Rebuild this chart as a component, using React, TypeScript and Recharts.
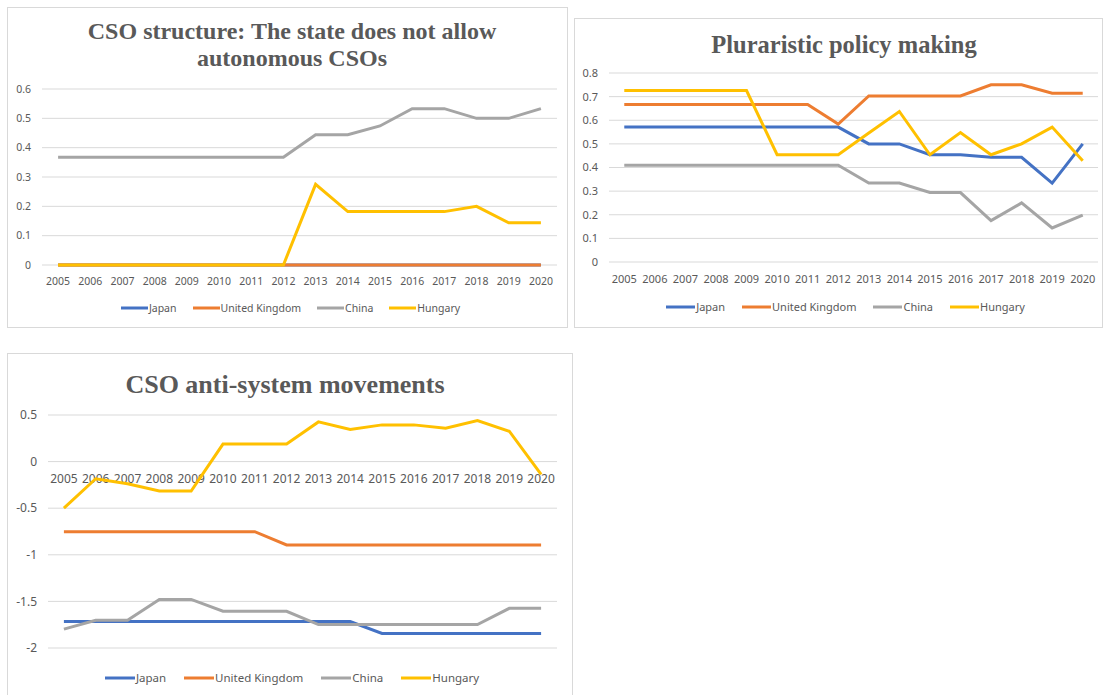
import React from 'react';
import { LineChart, Line, XAxis, YAxis, CartesianGrid, Legend } from 'recharts';

// ---------- shared ----------
const years = ['2005', '2006', '2007', '2008', '2009', '2010', '2011', '2012', '2013', '2014', '2015', '2016', '2017', '2018', '2019', '2020'];
const seriesNames = ['Japan', 'United Kingdom', 'China', 'Hungary'];
const seriesColors = ['#4472C4', '#ED7D31', '#A5A5A5', '#FFC000'];

// ---------- chart 1: CSO structure ----------
const structTitle = ['CSO structure: The state does not allow', 'autonomous CSOs'];
const structJapan = [0, 0, 0, 0, 0, 0, 0, 0, 0, 0, 0, 0, 0, 0, 0, 0];
const structUK = [0, 0, 0, 0, 0, 0, 0, 0, 0, 0, 0, 0, 0, 0, 0, 0];
const structChina = [0.367, 0.367, 0.367, 0.367, 0.367, 0.367, 0.367, 0.367, 0.444, 0.444, 0.474, 0.533, 0.533, 0.5, 0.5, 0.533];
const structHungary = [0, 0, 0, 0, 0, 0, 0, 0, 0.275, 0.182, 0.182, 0.182, 0.182, 0.2, 0.144, 0.144];
const structTicks = [0, 0.1, 0.2, 0.3, 0.4, 0.5, 0.6];

// ---------- chart 2: Pluraristic policy making ----------
const plurTitle = ['Pluraristic policy making'];
const plurJapan = [0.571, 0.571, 0.571, 0.571, 0.571, 0.571, 0.571, 0.571, 0.5, 0.5, 0.454, 0.454, 0.443, 0.443, 0.334, 0.5];
const plurUK = [0.667, 0.667, 0.667, 0.667, 0.667, 0.667, 0.667, 0.584, 0.703, 0.703, 0.703, 0.703, 0.75, 0.75, 0.714, 0.714];
const plurChina = [0.41, 0.41, 0.41, 0.41, 0.41, 0.41, 0.41, 0.41, 0.334, 0.334, 0.294, 0.294, 0.175, 0.25, 0.144, 0.198];
const plurHungary = [0.726, 0.726, 0.726, 0.726, 0.726, 0.454, 0.454, 0.454, 0.546, 0.637, 0.454, 0.548, 0.454, 0.5, 0.571, 0.429];
const plurTicks = [0, 0.1, 0.2, 0.3, 0.4, 0.5, 0.6, 0.7, 0.8];

// ---------- chart 3: CSO anti-system movements ----------
const antiTitle = ['CSO anti-system movements'];
const antiJapan = [-1.716, -1.716, -1.716, -1.716, -1.716, -1.716, -1.716, -1.716, -1.716, -1.716, -1.844, -1.844, -1.844, -1.844, -1.844, -1.844];
const antiUK = [-0.752, -0.752, -0.752, -0.752, -0.752, -0.752, -0.752, -0.894, -0.894, -0.894, -0.894, -0.894, -0.894, -0.894, -0.894, -0.894];
const antiChina = [-1.798, -1.702, -1.702, -1.479, -1.479, -1.606, -1.606, -1.606, -1.748, -1.748, -1.748, -1.748, -1.748, -1.748, -1.574, -1.574];
const antiHungary = [-0.5, -0.184, -0.238, -0.316, -0.316, 0.188, 0.188, 0.188, 0.426, 0.344, 0.394, 0.394, 0.358, 0.44, 0.326, -0.138];
const antiTicks = [-2, -1.5, -1, -0.5, 0, 0.5];

const TEXT = '#595959';
const GRID = '#D9D9D9';
const FONT = "'Noto Sans', sans-serif";

function buildRows(series: number[][]) {
  return years.map((y, i) => {
    const row: any = { year: y };
    seriesNames.forEach((n, s) => {
      row[n] = series[s][i];
    });
    return row;
  });
}

function YearTick(props: any) {
  const { x, y, payload, fontSize, shift } = props;
  return (
    <text x={x} y={y - (shift || 0)} dy="0.71em" textAnchor="middle" fill={TEXT} fontSize={fontSize} fontFamily={FONT}>
      {payload.value}
    </text>
  );
}

function makeLegend(fontSize: number, iconW: number, gap: number) {
  return () => (
    <div style={{ display: 'flex', justifyContent: 'center', alignItems: 'center', height: 16, fontFamily: FONT, fontSize, color: TEXT }}>
      {seriesNames.map((n, i) => (
        <div key={n} style={{ display: 'flex', alignItems: 'center', marginLeft: i === 0 ? 0 : gap }}>
          <svg width={iconW} height={6} style={{ display: 'block' }}>
            <line x1={0} y1={3} x2={iconW} y2={3} stroke={seriesColors[i]} strokeWidth={3} />
          </svg>
          <span style={{ marginLeft: 1, whiteSpace: 'nowrap', lineHeight: '16px' }}>{n}</span>
        </div>
      ))}
    </div>
  );
}

type Cfg = {
  title: string[];
  titleCx: number;
  titleTop: number;
  titleSize: number;
  titleLine: number;
  panel: { left: number; top: number; width: number; height: number };
  margin: { top: number; right: number; bottom: number; left: number };
  yWidth: number;
  xHeight: number;
  series: number[][];
  ticks: number[];
  tickSize: number;
  legendSize: number;
  legendIcon: number;
  legendGap: number;
  legendTop: number;
  legendLeft: number;
  zeroAxis: boolean;
};

function Panel({ cfg }: { cfg: Cfg }) {
  const rows = buildRows(cfg.series);
  const { panel, margin } = cfg;
  const plotW = panel.width - margin.left - margin.right - cfg.yWidth;
  const plotH = panel.height - margin.top - margin.bottom - cfg.xHeight;
  const pad = plotW / (years.length * 2);
  const dMin = cfg.ticks[0];
  const dMax = cfg.ticks[cfg.ticks.length - 1];
  const shift = cfg.zeroAxis ? (plotH * (0 - dMin)) / (dMax - dMin) : 0;

  // one identical chart layer per series, stacked in series order so later series are drawn on top
  const layer = (k: number) => {
    const base = k === 0;
    return (
      <div key={k} style={{ position: 'absolute', left: 0, top: 0, zIndex: k + 1 }}>
        <LineChart width={panel.width} height={panel.height} data={rows} margin={margin}>
          {base && <CartesianGrid vertical={false} stroke={GRID} strokeWidth={1} />}
          <XAxis
            dataKey="year"
            axisLine={false}
            tickLine={false}
            tickSize={0}
            tickMargin={13}
            height={cfg.xHeight}
            interval={0}
            padding={{ left: pad, right: pad }}
            tick={base ? <YearTick fontSize={cfg.tickSize} shift={shift} /> : false}
          />
          <YAxis
            type="number"
            domain={[dMin, dMax]}
            ticks={cfg.ticks}
            interval={0}
            axisLine={false}
            tickLine={false}
            tickSize={0}
            tickMargin={11}
            width={cfg.yWidth}
            tick={base ? { fill: TEXT, fontSize: cfg.tickSize, fontFamily: FONT } : false}
          />
          {base && (
            <Legend
              verticalAlign="middle"
              align="center"
              wrapperStyle={{ left: cfg.legendLeft, top: cfg.legendTop, width: panel.width }}
              content={makeLegend(cfg.legendSize, cfg.legendIcon, cfg.legendGap)}
            />
          )}
          <Line
            type="linear"
            dataKey={seriesNames[k]}
            name={seriesNames[k]}
            stroke={seriesColors[k]}
            strokeWidth={3}
            dot={false}
            activeDot={false}
            isAnimationActive={false}
          />
        </LineChart>
      </div>
    );
  };

  return (
    <>
      <div
        style={{
          position: 'absolute',
          left: panel.left,
          top: panel.top,
          width: panel.width,
          height: panel.height,
          boxShadow: `inset 0 0 0 1px ${GRID}`,
          background: '#fff',
        }}
      >
        {seriesNames.map((_, k) => layer(k))}
      </div>
      <div
        style={{
          position: 'absolute',
          left: cfg.titleCx - 300,
          top: cfg.titleTop,
          width: 600,
          textAlign: 'center',
          fontFamily: "'Liberation Serif', 'Times New Roman', serif",
          fontWeight: 'bold',
          fontSize: cfg.titleSize,
          lineHeight: `${cfg.titleLine}px`,
          color: TEXT,
          zIndex: 10,
        }}
      >
        {cfg.title.map((t, i) => (
          <div key={i}>{t}</div>
        ))}
      </div>
    </>
  );
}

const cfg1: Cfg = {
  title: structTitle,
  titleCx: 292,
  titleTop: 18,
  titleSize: 24,
  titleLine: 27,
  panel: { left: 7, top: 7, width: 561, height: 321 },
  margin: { top: 82, right: 11, bottom: 33, left: 0 },
  yWidth: 35,
  xHeight: 30,
  series: [structJapan, structUK, structChina, structHungary],
  ticks: structTicks,
  tickSize: 10.5,
  legendSize: 10.5,
  legendIcon: 27,
  legendGap: 16,
  legendTop: 293,
  legendLeft: 3,
  zeroAxis: false,
};

const cfg2: Cfg = {
  title: plurTitle,
  titleCx: 844,
  titleTop: 30,
  titleSize: 24.5,
  titleLine: 30,
  panel: { left: 574, top: 18, width: 529, height: 310 },
  margin: { top: 55, right: 5, bottom: 36, left: 0 },
  yWidth: 35,
  xHeight: 30,
  series: [plurJapan, plurUK, plurChina, plurHungary],
  ticks: plurTicks,
  tickSize: 11,
  legendSize: 11,
  legendIcon: 29,
  legendGap: 17,
  legendTop: 281,
  legendLeft: 7,
  zeroAxis: false,
};

const cfg3: Cfg = {
  title: antiTitle,
  titleCx: 285,
  titleTop: 370,
  titleSize: 26,
  titleLine: 30,
  panel: { left: 7, top: 353, width: 566, height: 345 },
  margin: { top: 62, right: 16, bottom: 20, left: 0 },
  yWidth: 41,
  xHeight: 30,
  series: [antiJapan, antiUK, antiChina, antiHungary],
  ticks: antiTicks,
  tickSize: 12,
  legendSize: 11.5,
  legendIcon: 30,
  legendGap: 18,
  legendTop: 317,
  legendLeft: 2,
  zeroAxis: true,
};

export default function App() {
  return (
    <div style={{ position: 'absolute', left: 0, top: 0, width: 1103, height: 695, background: '#fff', overflow: 'hidden' }}>
      <Panel cfg={cfg1} />
      <Panel cfg={cfg2} />
      <Panel cfg={cfg3} />
    </div>
  );
}
